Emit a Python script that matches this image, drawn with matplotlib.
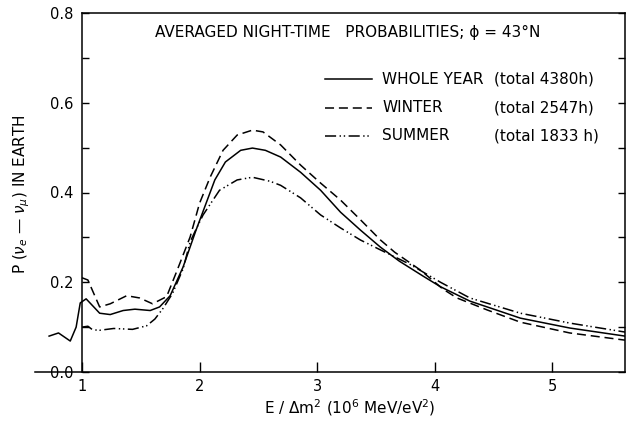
import matplotlib
matplotlib.use("Agg")
import matplotlib.pyplot as plt
from matplotlib.lines import Line2D

plt.rcParams['font.family'] = ['DejaVu Sans']
plt.rcParams['lines.scale_dashes'] = False
plt.rcParams['mathtext.fontset'] = 'dejavusans'

# Whole year (total 4380 h)
year_x = [0.72, 0.80, 0.90, 0.95, 0.985, 1.035, 1.10, 1.15, 1.24, 1.35, 1.45, 1.58, 1.66,
          1.75, 1.86, 1.97, 2.05, 2.13, 2.22, 2.35, 2.45, 2.56, 2.69, 2.86, 3.03, 3.20,
          3.37, 3.54, 3.70, 3.90, 4.05, 4.30, 4.73, 5.15, 5.62]
year_y = [0.080, 0.087, 0.069, 0.100, 0.154, 0.163, 0.145, 0.131, 0.128, 0.137, 0.140,
          0.137, 0.145, 0.170, 0.234, 0.316, 0.372, 0.428, 0.468, 0.494, 0.499, 0.494,
          0.479, 0.445, 0.405, 0.356, 0.316, 0.278, 0.247, 0.214, 0.190, 0.158, 0.120,
          0.098, 0.080]

# Winter (total 2547 h)
winter_x = [1.00, 1.05, 1.10, 1.15, 1.24, 1.38, 1.49, 1.60, 1.72, 1.81, 1.92, 2.00, 2.09,
            2.20, 2.32, 2.45, 2.54, 2.69, 2.86, 3.03, 3.20, 3.37, 3.54, 3.66, 3.88, 4.07,
            4.19, 4.45, 4.73, 5.15, 5.62]
winter_y = [0.210, 0.205, 0.175, 0.145, 0.152, 0.170, 0.165, 0.152, 0.168, 0.227, 0.301,
            0.376, 0.434, 0.494, 0.528, 0.539, 0.535, 0.506, 0.461, 0.421, 0.383, 0.339,
            0.294, 0.267, 0.227, 0.185, 0.165, 0.138, 0.111, 0.087, 0.071]

# Summer (total 1833 h)
summer_x = [1.00, 1.05, 1.09, 1.15, 1.27, 1.43, 1.55, 1.62, 1.69, 1.77, 1.86, 1.92, 1.97,
            2.03, 2.17, 2.32, 2.45, 2.60, 2.69, 2.86, 3.03, 3.20, 3.37, 3.54, 3.79, 4.05,
            4.30, 4.73, 5.15, 5.62]
summer_y = [0.100, 0.102, 0.094, 0.093, 0.097, 0.095, 0.103, 0.118, 0.142, 0.175, 0.230,
            0.290, 0.318, 0.350, 0.405, 0.428, 0.434, 0.425, 0.416, 0.388, 0.350, 0.321,
            0.294, 0.272, 0.240, 0.200, 0.165, 0.131, 0.109, 0.089]

x_ticks = [1, 2, 3, 4, 5]
y_ticks = [0.0, 0.2, 0.4, 0.6, 0.8]
y_ticklabels = ['0.0', '0.2', '0.4', '0.6', '0.8']
series_names = ['WHOLE YEAR', 'WINTER', 'SUMMER']
series_totals = ['(total 4380h)', '(total 2547h)', '(total 1833 h)']

fig = plt.figure(figsize=(6.29, 4.22), dpi=100)
ax = fig.add_axes([35/629, 50/422, 590/629, 359/422])

lw = 1.1
styles = [
    dict(color='black', lw=lw, linestyle='-'),
    dict(color='black', lw=lw, linestyle=(0, (6.5, 3.5))),
    dict(color='black', lw=lw, linestyle=(0, (8, 2.5, 1, 2.0, 1, 2.5))),
]
ax.plot(year_x, year_y, **styles[0])
ax.plot(winter_x, winter_y, **styles[1])
ax.plot(summer_x, summer_y, **styles[2])

ax.set_xlim(0.6, 5.62)
ax.set_ylim(0.0, 0.8)

ax.spines['left'].set_position(('data', 1.0))
ax.spines['top'].set_bounds(1.0, 5.62)
for s in ax.spines.values():
    s.set_linewidth(1.1)

ax.set_xticks(x_ticks)
ax.set_xticklabels([str(t) for t in x_ticks])
ax.set_yticks(y_ticks)
ax.set_yticklabels(y_ticklabels)
ax.set_yticks([0.1, 0.3, 0.5, 0.7], minor=True)
ax.tick_params(axis='both', which='both', direction='in', labelsize=10.5, width=1.0)
ax.tick_params(axis='x', which='major', length=7, pad=5, top=False)
ax.tick_params(axis='y', which='both', length=5, right=True, pad=6)

# title-like annotation
ax.text(120/590, (372-32)/359, 'AVERAGED NIGHT-TIME   PROBABILITIES; ϕ = 43°N',
        transform=ax.transAxes, fontsize=11, ha='left', va='center')

# legend (manual)
rows_y = [(372-79)/359, (372-108)/359, (372-136)/359]
for st, name, tot, yy in zip(styles, series_names, series_totals, rows_y):
    ax.add_line(Line2D([290/590, 337/590], [yy, yy], transform=ax.transAxes, **st))
    ax.text(347/590, yy, name, transform=ax.transAxes, fontsize=11, ha='left', va='center')
    ax.text(459/590, yy, tot, transform=ax.transAxes, fontsize=11, ha='left', va='center')

fig.text(350/629, 1 - 408/422, r'E / $\Delta$m$^2$ (10$^6$ MeV/eV$^2$)',
         fontsize=11, ha='center', va='center')
fig.text(22/629, 1 - 194/422, r'P ($\nu_e$ — $\nu_\mu$) IN EARTH',
         fontsize=11, ha='center', va='center', rotation=90)

fig.savefig('out.png', dpi=100)
